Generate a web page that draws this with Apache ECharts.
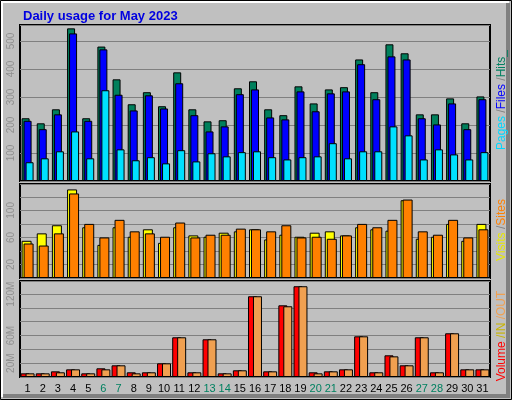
<!DOCTYPE html>
<html>
<head>
<meta charset="utf-8">
<title>Daily usage for May 2023</title>
<style>
html,body{margin:0;padding:0;background:#c0c0c0;}
#chart{width:512px;height:400px;}
</style>
<script src="https://cdn.jsdelivr.net/npm/echarts@6/dist/echarts.min.js"></script>
</head>
<body>
<div id="chart"></div>
<script>
var days = ['1','2','3','4','5','6','7','8','9','10','11','12','13','14','15','16','17','18','19','20','21','22','23','24','25','26','27','28','29','30','31'];
var weekend = ['6','7','13','14','20','21','27','28'];
var hits  = [224,206,256,545,224,480,363,274,317,267,388,256,213,217,331,356,256,235,338,277,327,335,434,317,488,456,238,238,295,206,302];
var files = [215,185,238,527,215,470,308,252,306,259,349,235,177,195,310,327,227,220,320,249,313,320,417,292,445,434,224,202,277,185,292];
var pages = [67,81,106,177,81,324,113,74,85,63,110,70,99,88,103,106,85,77,85,88,135,81,106,106,195,163,77,113,95,77,103];
var visits = [55,66,78,131,75,49,75,61,72,52,75,63,61,67,69,72,57,64,61,67,69,63,75,72,70,115,58,61,80,55,80];
var sites  = [51,48,66,125,80,60,86,69,66,61,82,60,64,64,73,72,69,78,60,61,58,63,80,75,86,116,69,64,86,60,72];
var volume = [5.3,5.3,8.2,11.1,5.3,12.6,16.9,6.8,6.8,19.8,57.5,6.8,54.6,5.3,9.7,116.9,8.2,103.8,131.4,6.8,8.2,11.1,58.9,6.8,31.4,16.9,57.5,6.8,63.3,11.1,11.1];
var volOut = [5.3,5.3,6.8,11.1,5.3,11.1,16.9,5.3,6.8,19.8,57.5,6.8,54.6,5.3,9.7,116.9,8.2,102.4,131.4,5.3,8.2,11.1,58.9,6.8,29.9,16.9,57.5,6.8,63.3,11.1,11.1];
var topLabels = [100,200,300,400,500];
var midLabels = [20,60,100];
var volLabels = [20,60,120];

var FONT = 'Liberation Sans';
var chart = echarts.init(document.getElementById('chart'));
var barBorder = {borderColor:'#000',borderWidth:1};
var gridLine = {show:true,lineStyle:{color:'#808080',width:1}};

function xAx(idx,showLabel){
	return {
		type:'category',gridIndex:idx,data:days,
		axisLine:{show:false},axisTick:{show:false},
		axisLabel:{show:showLabel,interval:0,fontSize:11,fontFamily:FONT,margin:6,
			color:function(v){return weekend.indexOf(v)>=0?'#008060':'#000';}}
	};
}
function yAx(idx,max,step,labels,suffix){
	return {
		type:'value',gridIndex:idx,min:0,max:max,interval:step,
		axisLine:{show:false},axisTick:{show:false},splitLine:gridLine,
		axisLabel:{rotate:90,fontSize:10,color:'#909090',fontFamily:FONT,margin:4,showMaxLabel:false,
			formatter:function(v){return labels.indexOf(v)>=0?v+suffix:'';}}
	};
}
function bar(name,x,data,color,w,gap,z){
	return {name:name,type:'bar',xAxisIndex:x,yAxisIndex:x,data:data,barWidth:w,barGap:gap,z:z,
		itemStyle:Object.assign({color:color},barBorder),animation:false};
}

var option = {
	backgroundColor:'#c0c0c0',
	animation:false,
	title:{text:'Daily usage for May 2023',left:18,top:5,textStyle:{color:'#0000e0',fontSize:13,fontWeight:'bold',fontFamily:FONT}},
	graphic:[
		{type:'rect',shape:{x:0.5,y:0.5,width:511,height:399},style:{fill:'none',stroke:'#000',lineWidth:1},z:-1},
		{type:'polyline',shape:{points:[[2,397],[2,2],[509,2]]},style:{stroke:'#fff',lineWidth:2,fill:'none'}},
		{type:'polyline',shape:{points:[[3,396],[508,396],[508,3]]},style:{stroke:'#808080',lineWidth:4,fill:'none'}},
		{type:'text',rotation:Math.PI/2,x:502,y:100,style:{
			text:'{c|Pages} {d|/}{b|Files} {d|/}{g|Hits_}',align:'center',verticalAlign:'middle',
			rich:{c:{fill:'#00d8ff',fontSize:12,fontFamily:FONT},b:{fill:'#0000ff',fontSize:12,fontFamily:FONT},
				g:{fill:'#008060',fontSize:12,fontFamily:FONT},d:{fill:'#808080',fontSize:12}}}},
		{type:'text',rotation:Math.PI/2,x:502,y:230,style:{
			text:'{y|Visits} {d|/}{o|Sites}',align:'center',verticalAlign:'middle',
			rich:{y:{fill:'#e8e800',fontSize:12,fontFamily:FONT},o:{fill:'#ff8000',fontSize:12,fontFamily:FONT},d:{fill:'#808080',fontSize:12}}}},
		{type:'text',rotation:Math.PI/2,x:502,y:336,style:{
			text:'{r|Volume} {i|/IN} {o|/OUT}',align:'center',verticalAlign:'middle',
			rich:{r:{fill:'#ff0000',fontSize:12,fontFamily:FONT},i:{fill:'#c8b400',fontSize:12,fontFamily:FONT},o:{fill:'#f0a050',fontSize:12,fontFamily:FONT}}}}
	],
	grid:[
		{left:20,right:22,top:25,height:156,show:true,backgroundColor:'#c0c0c0',borderColor:'#000',borderWidth:2},
		{left:20,right:22,top:184,height:94,show:true,backgroundColor:'#c0c0c0',borderColor:'#000',borderWidth:2},
		{left:20,right:22,top:281,height:96,show:true,backgroundColor:'#c0c0c0',borderColor:'#000',borderWidth:2}
	],
	xAxis:[xAx(0,false),xAx(1,false),xAx(2,true)],
	yAxis:[yAx(0,557,100,topLabels,''),yAx(1,139,20,midLabels,''),yAx(2,139,20,volLabels,'M')],
	series:[
		bar('Hits',0,hits,'#00805c',8,'-75%',2),
		bar('Files',0,files,'#0000ff',8,'-75%',3),
		bar('Pages',0,pages,'#00e0ff',8,'-75%',4),
		bar('Visits',1,visits,'#ffff00',10,'-80%',2),
		bar('Sites',1,sites,'#ff8000',10,'-80%',3),
		bar('Volume',2,volume,'#ff0000',9,'-45%',2),
		bar('OUT',2,volOut,'#f0a050',9,'-45%',3)
	]
};
chart.setOption(option);
</script>
</body>
</html>
